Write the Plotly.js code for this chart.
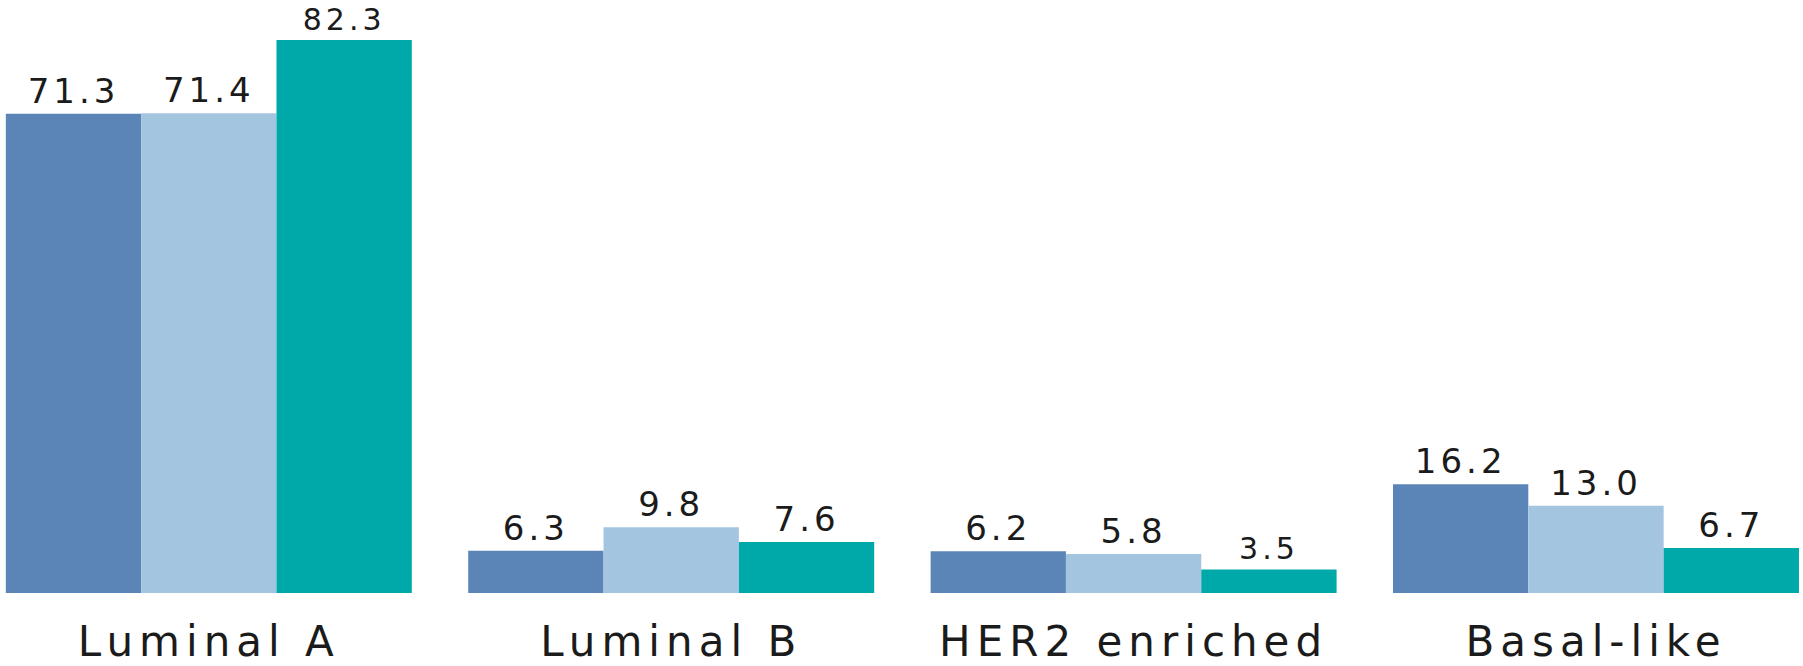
<!DOCTYPE html>
<html>
<head>
<meta charset="utf-8">
<script src="https://cdn.plot.ly/plotly-3.0.1.min.js"></script>
<style>
  html, body { margin: 0; padding: 0; background: #ffffff; }
  #chart { width: 1803px; height: 666px; }
  /* wide, airy lettering for the value labels and subtype names */
  #chart text.bartext { letter-spacing: 4px; }
  #chart .xtick text { letter-spacing: 6px; }
</style>
</head>
<body>
<div id="chart"></div>
<script>
// Breast cancer intrinsic subtypes (%), three cohorts
const subtypes = ["Luminal A", "Luminal B", "HER2 enriched", "Basal-like"];
const cohortDark = [71.3, 6.3, 6.2, 16.2];
const cohortLight = [71.4, 9.8, 5.8, 13.0];
const cohortTeal = [82.3, 7.6, 3.5, 6.7];

const labelFont = "DejaVu Sans, Lato, sans-serif";
const labelColor = "#1b1b1b";

function series(values, color, sizes) {
  return {
    type: "bar",
    x: subtypes,
    y: values,
    marker: { color: color, line: { width: 0 } },
    texttemplate: "%{y:.1f}",
    textposition: "outside",
    constraintext: "none",
    cliponaxis: false,
    textfont: { family: labelFont, size: sizes || 34, color: labelColor },
    hoverinfo: "x+y",
    showlegend: false
  };
}

const data = [
  series(cohortDark, "#5b85b6"),
  series(cohortLight, "#a3c5e0"),
  series(cohortTeal, "#00a9a9", [30, 34, 30, 34])
];

const layout = {
  width: 1803,
  height: 666,
  margin: { l: 0, r: 0, t: 0, b: 73, pad: 0 },
  paper_bgcolor: "#ffffff",
  plot_bgcolor: "#ffffff",
  barmode: "group",
  bargap: 0.122,
  bargroupgap: 0,
  xaxis: {
    type: "category",
    range: [-0.4516, 3.4477],
    showgrid: false,
    zeroline: false,
    showline: false,
    ticks: "outside",
    ticklen: 12,
    tickcolor: "rgba(0,0,0,0)",
    tickfont: { family: labelFont, size: 42, color: labelColor },
    fixedrange: true
  },
  yaxis: {
    range: [0, 88.24],
    showgrid: false,
    zeroline: false,
    showline: false,
    showticklabels: false,
    ticks: "",
    fixedrange: true
  }
};

Plotly.newPlot("chart", data, layout, { displayModeBar: false, staticPlot: true });
</script>
</body>
</html>
